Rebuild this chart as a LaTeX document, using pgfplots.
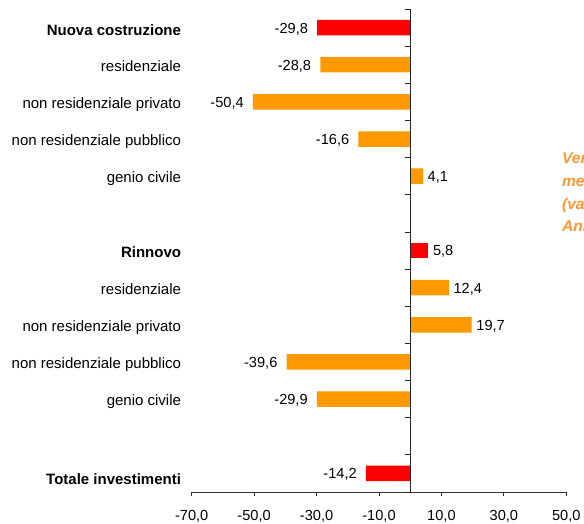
\documentclass[border=0pt]{standalone}
\usepackage{pgfplots}
\pgfplotsset{compat=1.18}
\usepackage{fontspec}
\setmainfont{Liberation Sans}
\definecolor{barred}{RGB}{255,0,0}
\definecolor{barorange}{RGB}{255,153,0}
\definecolor{txtorange}{RGB}{255,150,50}
\pgfplotsset{
  negbar/.style={bar shift=0pt, draw=none, point meta=x,
    nodes near coords={\pgfmathprintnumber[fixed,fixed zerofill,precision=1,use comma,assume math mode=true]{\pgfplotspointmeta}},
    every node near coord/.append style={anchor=base east, inner sep=0pt, xshift=-9pt, yshift=-5.5pt, text=black}},
  posbar/.style={bar shift=0pt, draw=none, point meta=x,
    nodes near coords={\pgfmathprintnumber[fixed,fixed zerofill,precision=1,use comma,assume math mode=true]{\pgfplotspointmeta}},
    every node near coord/.append style={anchor=base west, inner sep=0pt, xshift=4.5pt, yshift=-5.5pt, text=black}},
}
\begin{document}
\fontsize{14.6}{17}\selectfont
\begin{tikzpicture}[x=1pt,y=1pt]
\useasboundingbox (0,0) rectangle (584,524);
\begin{axis}[
  at={(191.7pt,32pt)}, anchor=south west,
  scale only axis, width=374.6pt, height=483pt,
  xmin=-70, xmax=50, ymin=0.5, ymax=13.5,
  axis x line*=bottom, axis y line*=left,
  x axis line style={-, black!80, line width=0.8pt},
  y axis line style={draw=none},
  xtick={-70,-50,...,50},
  tick align=outside, major tick length=4.5pt,
  xtick style={black!80, line width=0.8pt},
  ytick={1,...,13},
  yticklabels={\raisebox{-4.5pt}{\textbf{Totale investimenti}},,genio civile,non residenziale pubblico,non residenziale privato,residenziale,\textbf{Rinnovo},,genio civile,non residenziale pubblico,non residenziale privato,residenziale,\raisebox{-1.5pt}{\textbf{Nuova costruzione}}},
  ytick style={draw=none},
  yticklabel style={anchor=base east, inner sep=0pt, xshift=-6pt, yshift=-6.8pt, font=\fontsize{15}{17}\selectfont},
  xticklabel={\pgfmathprintnumber[fixed,fixed zerofill,precision=1,use comma,assume math mode=true]{\tick}},
  xticklabel style={anchor=base, inner sep=0pt, yshift=-24pt},
  xbar, bar width=15.5pt,
  clip=false,
]
\addplot[fill=barred, negbar] coordinates {(-29.8,13) (-14.2,1)};
\addplot[fill=barred, posbar] coordinates {(5.8,7)};
\addplot[fill=barorange, negbar] coordinates {(-28.8,12) (-50.4,11) (-16.6,10) (-39.6,4) (-29.9,3)};
\addplot[fill=barorange, posbar] coordinates {(4.1,9) (12.4,6) (19.7,5)};
\draw[black!85, line width=0.9pt] (axis cs:0,0.5) -- (axis cs:0,13.5);
\pgfplotsinvokeforeach{0.5,1.5,...,13.5}{\draw[black!85, line width=0.8pt] (axis cs:0,#1) -- ++(-5pt,0pt);}
\end{axis}
\node[anchor=north west, inner sep=0pt, text=txtorange, font=\fontsize{15.5}{22.8}\selectfont\bfseries\itshape, align=left] at (562,372) {Verifica\\medie annue\\(valori costanti)\\Anni};
\end{tikzpicture}
\end{document}
